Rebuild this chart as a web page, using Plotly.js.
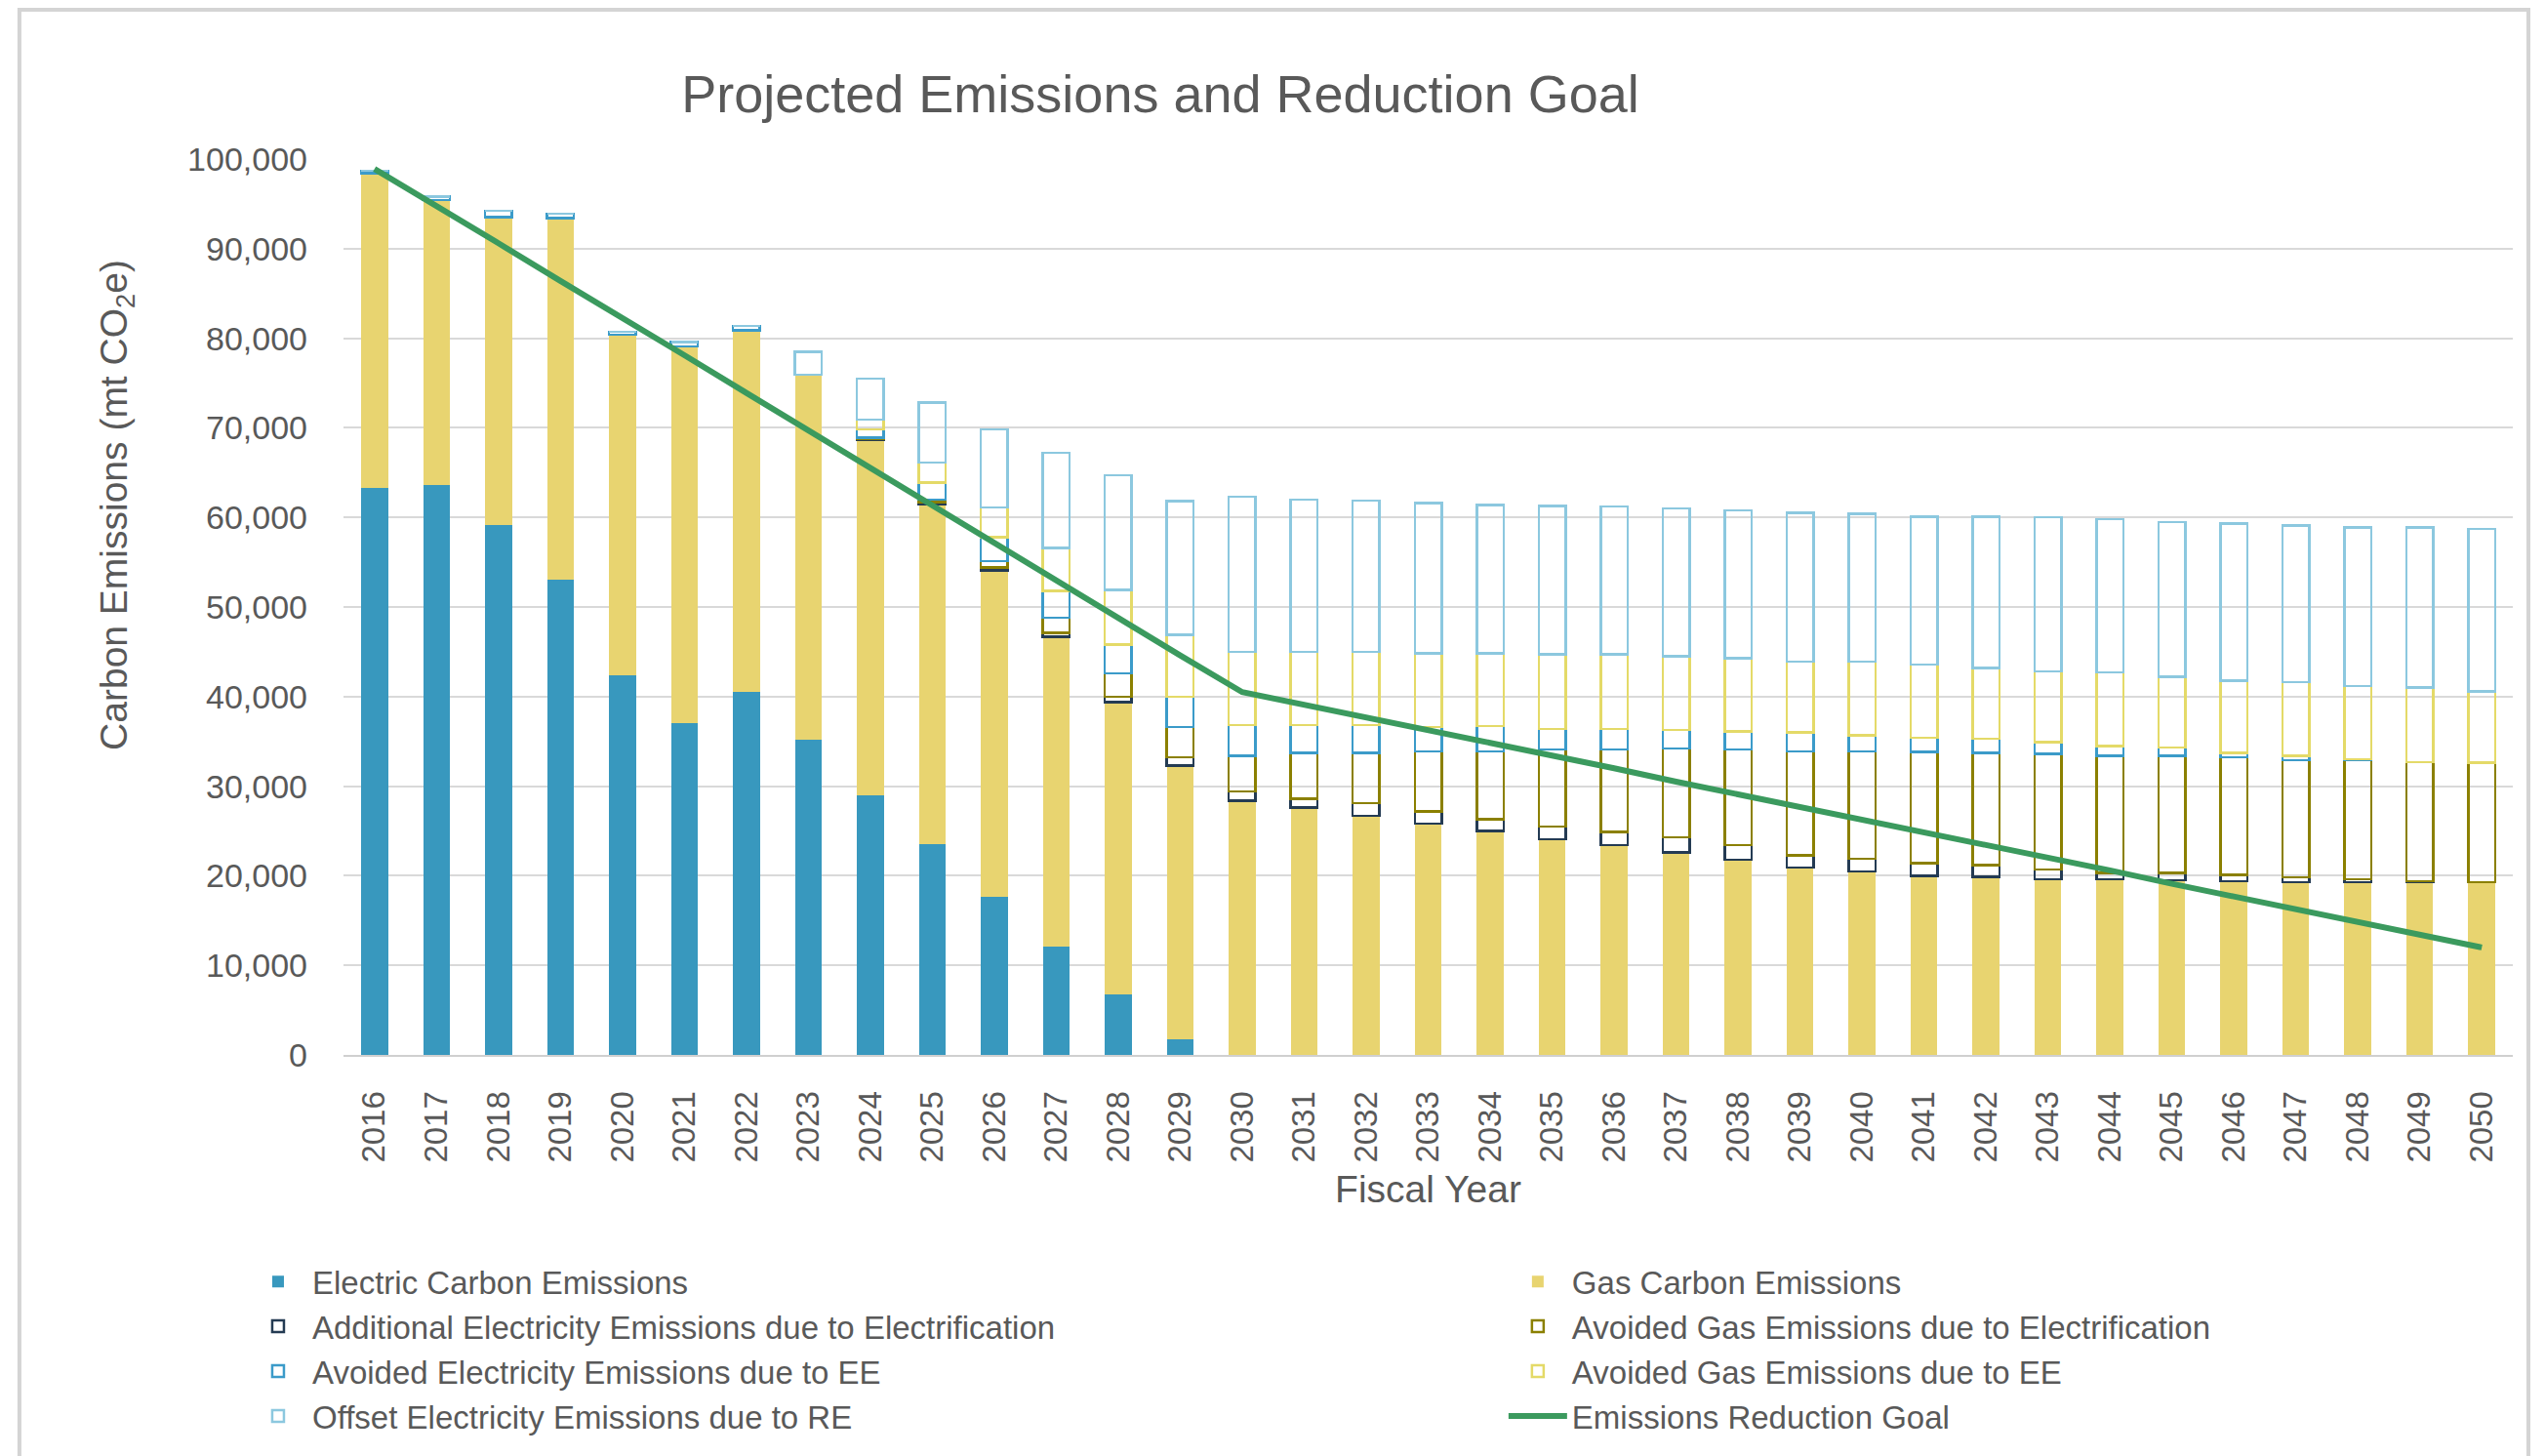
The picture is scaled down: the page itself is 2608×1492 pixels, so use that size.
<!DOCTYPE html>
<html><head><meta charset="utf-8">
<script src="https://cdn.plot.ly/plotly-3.0.1.min.js"></script>
<style>html,body{margin:0;padding:0;background:#fff;} #chart{width:2608px;height:1492px;}</style>
</head><body><div id="chart"></div>
<script>
const years = ["2016","2017","2018","2019","2020","2021","2022","2023","2024","2025","2026","2027","2028","2029","2030","2031","2032","2033","2034","2035","2036","2037","2038","2039","2040","2041","2042","2043","2044","2045","2046","2047","2048","2049","2050"];

const electric = [63300,63600,59200,53100,42400,37000,40500,35200,29000,23500,17600,12100,6800,1700,0,0,0,0,0,0,0,0,0,0,0,0,0,0,0,0,0,0,0,0,0];
const gas = [35100,31800,34300,40300,38000,42100,40400,40700,39700,38000,36500,34600,32600,30600,28400,27600,26700,25800,25000,24100,23400,22600,21800,20900,20500,20000,19900,19600,19600,19500,19400,19300,19300,19300,19300];
const addElecElectrification = [0,0,0,0,0,0,0,0,100,200,300,400,600,900,1000,1000,1400,1400,1300,1400,1500,1700,1600,1400,1400,1400,1300,1100,700,800,700,500,300,100,0];
const avoidedGasElectrification = [0,0,0,0,0,0,0,0,100,300,700,1700,2600,3400,4000,5100,5600,6700,7600,8600,9200,9900,10700,11600,12000,12400,12500,12900,13100,13100,13100,13100,13300,13300,13300];
const avoidedElecEE = [300,400,700,500,300,500,500,0,900,1900,2700,3000,3200,3400,3400,3100,3100,2700,2800,2300,2300,2100,2000,2100,1800,1600,1600,1300,1100,900,500,500,100,0,0];
const avoidedGasEE = [0,0,0,0,0,0,0,0,1100,2200,3300,4800,6100,6900,8200,8200,8200,8200,8100,8300,8300,8200,8200,7900,8200,8200,7900,7900,8200,7900,8100,8200,8200,8300,8000];
const offsetElecRE = [0,0,0,0,0,0,0,2600,4600,6700,8700,10600,12800,14900,17300,17000,16900,16800,16600,16600,16500,16500,16500,16600,16500,16500,16900,17200,17100,17300,17500,17500,17700,17900,18100];
const reductionGoal = [98900,94800,90600,86400,82300,78100,73900,69700,65500,61300,57100,52900,48800,44600,40500,39100,37600,36200,34800,33400,32000,30500,29100,27700,26300,24800,23400,22000,20600,19100,17700,16300,14900,13400,12000];

const seriesNames = {
  electric: "Electric Carbon Emissions",
  gas: "Gas Carbon Emissions",
  addElec: "Additional Electricity Emissions due to Electrification",
  avGasElec: "Avoided Gas Emissions due to Electrification",
  avElecEE: "Avoided Electricity Emissions due to EE",
  avGasEE: "Avoided Gas Emissions due to EE",
  offset: "Offset Electricity Emissions due to RE",
  goal: "Emissions Reduction Goal"
};

const FONT = "Liberation Sans, Arial, sans-serif";
const TXT = "#595959";

function solidBar(name, y, color, legend) {
  return {type:"bar", name:name, x:years, y:y, legend:legend,
    marker:{color:color, line:{width:0}}, hoverinfo:"x+y+name"};
}
function outlineBar(name, y, color, legend) {
  return {type:"bar", name:name, x:years, y:y, legend:legend,
    marker:{color:"rgba(255,255,255,0)", line:{color:color, width:2.5}}, hoverinfo:"x+y+name"};
}

const traces = [
  solidBar(seriesNames.electric, electric, "#3898BE", "legend"),
  solidBar(seriesNames.gas, gas, "#E8D470", "legend2"),
  outlineBar(seriesNames.addElec, addElecElectrification, "#243B53", "legend"),
  outlineBar(seriesNames.avGasElec, avoidedGasElectrification, "#8B8000", "legend2"),
  outlineBar(seriesNames.avElecEE, avoidedElecEE, "#3B9BC9", "legend"),
  outlineBar(seriesNames.avGasEE, avoidedGasEE, "#E4DA68", "legend2"),
  outlineBar(seriesNames.offset, offsetElecRE, "#8CC8DF", "legend"),
  {type:"scatter", mode:"lines", name:seriesNames.goal, x:years, y:reductionGoal, legend:"legend2",
    line:{color:"#3B9A5E", width:6}}
];

// plot area: x 352..2575 px, y 163..1081 px
const legendCommon = {
  orientation:"v", traceorder:"normal", xref:"paper", yref:"paper",
  xanchor:"left", yanchor:"top", font:{family:FONT, size:33, color:TXT},
  itemwidth:60, bgcolor:"rgba(0,0,0,0)", borderwidth:0
};

const layout = {
  width:2608, height:1492,
  paper_bgcolor:"#ffffff", plot_bgcolor:"#ffffff",
  margin:{l:352, r:33, t:163, b:411, pad:0, autoexpand:false},
  barmode:"stack", bargap:0.567,
  font:{family:FONT, color:TXT},
  title:{text:"Projected Emissions and Reduction Goal", font:{family:FONT, size:54, color:TXT},
    xref:"container", yref:"container", x:0.4559, y:0.9357, xanchor:"center", yanchor:"middle"},
  xaxis:{type:"category", tickmode:"linear", dtick:1, tickangle:-90, tickfont:{family:FONT, size:33, color:TXT},
    showgrid:false, showline:true, linecolor:"#D0D0D0", linewidth:2, ticks:"", zeroline:false,
    ticklabelstandoff:22, automargin:false,
    title:{text:"Fiscal Year", font:{family:FONT, size:39, color:TXT}, standoff:14}},
  yaxis:{range:[0,100000], dtick:10000, tick0:0, tickformat:",", tickfont:{family:FONT, size:34, color:TXT},
    showgrid:true, gridcolor:"#D9D9D9", gridwidth:2, zeroline:false, showline:false, ticks:"",
    ticklabelstandoff:36, automargin:false},
  legend:Object.assign({}, legendCommon, {x:-0.0459, y:-0.2225}),
  legend2:Object.assign({}, legendCommon, {x:0.5348, y:-0.2225}),
  annotations:[{text:"Carbon Emissions (mt CO<sub>2</sub>e)", xref:"paper", yref:"paper",
    x:-0.1044, y:0.6144, xanchor:"center", yanchor:"middle", textangle:-90, showarrow:false,
    font:{family:FONT, size:39, color:TXT}}],
  shapes:[{type:"rect", xref:"paper", yref:"paper", x0:-0.1494, x1:1.0072, y0:-0.47, y1:1.1666,
    line:{color:"#D4D4D4", width:4}, fillcolor:"rgba(0,0,0,0)", layer:"below"}]
};

Plotly.newPlot("chart", traces, layout, {displayModeBar:false, staticPlot:true});
</script>
</body></html>
